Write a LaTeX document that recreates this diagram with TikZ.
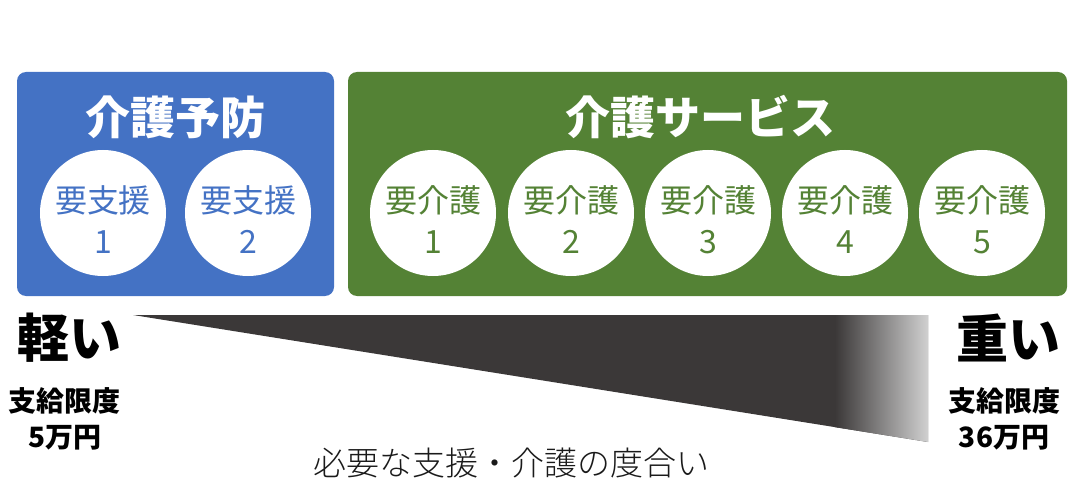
\documentclass[tikz,border=0pt]{standalone}
\usepackage{fontspec}
\setmainfont{Noto Sans CJK JP}
\newfontfamily\jpblack{Noto Sans CJK JP Black}
\newfontfamily\jplight{Noto Sans CJK JP Light}
\usepackage{tikz}

\definecolor{yoboblue}{HTML}{4472C4}
\definecolor{kaigogreen}{HTML}{548235}
\definecolor{wedgedark}{HTML}{3B3838}
\definecolor{wedgelight}{HTML}{D0D0D0}
\definecolor{scaletext}{HTML}{1A1A1A}

\begin{document}
\begin{tikzpicture}[
	x=1pt, y=-1pt,
	group/.style={rounded corners=9pt, draw=none},
	title/.style={text=white, font=\fontsize{45}{48}\selectfont\bfseries, inner sep=0pt},
	level/.style={circle, fill=white, draw=none, minimum size=126pt, inner sep=0pt},
	leveltext/.style={align=center, inner sep=0pt, font=\fontsize{32}{41}\selectfont},
	weight/.style={font=\fontsize{52}{56}\selectfont\jpblack, inner sep=0pt},
	limit/.style={font=\fontsize{28}{36}\selectfont\bfseries, align=center, inner sep=0pt}
	]
	
	\useasboundingbox (0,0) rectangle (1080,500);
	
	%-----------------------
	% Row heights
	%-----------------------
	\def\htitle{117}   % group titles
	\def\hlevel{213}   % level circles
	\def\htext{220}    % text inside circles
	\def\hweight{338}  % light / heavy
	
	%-----------------------
	% Groups
	%-----------------------
	\fill[group, yoboblue] (17,72) rectangle (334,296);
	\fill[group, kaigogreen] (348,72) rectangle (1067,296);
	
	\node[title] (yobo) at (175,\htitle) {介護予防};
	\node[title] (kaigo) at (700,\htitle) {介護サービス};
	
	%-----------------------
	% Support levels (blue)
	%-----------------------
	\node[level] (shien-1) at (103,\hlevel) {};
	\node[level] (shien-2) at (248,\hlevel) {};
	
	\node[leveltext, text=yoboblue] (shien-1-text) at (103,\htext) {要支援\\1};
	\node[leveltext, text=yoboblue] (shien-2-text) at (248,\htext) {要支援\\2};
	
	%-----------------------
	% Care levels (green)
	%-----------------------
	\node[level] (kaigo-1) at (433,\hlevel) {};
	\node[level] (kaigo-2) at (571,\hlevel) {};
	\node[level] (kaigo-3) at (708,\hlevel) {};
	\node[level] (kaigo-4) at (845,\hlevel) {};
	\node[level] (kaigo-5) at (982,\hlevel) {};
	
	\node[leveltext, text=kaigogreen] (kaigo-1-text) at (433,\htext) {要介護\\1};
	\node[leveltext, text=kaigogreen] (kaigo-2-text) at (571,\htext) {要介護\\2};
	\node[leveltext, text=kaigogreen] (kaigo-3-text) at (708,\htext) {要介護\\3};
	\node[leveltext, text=kaigogreen] (kaigo-4-text) at (845,\htext) {要介護\\4};
	\node[leveltext, text=kaigogreen] (kaigo-5-text) at (982,\htext) {要介護\\5};
	
	%-----------------------
	% Wedge (degree of need)
	%-----------------------
	\fill[wedgedark] (133,315) -- (928,315) -- (928,442) -- cycle;
	\begin{scope}
		\clip (133,315) -- (928,315) -- (928,442) -- cycle;
		\shade[left color=wedgedark, right color=wedgelight] (835,312) rectangle (928,446);
	\end{scope}
	
	%-----------------------
	% Light / heavy
	%-----------------------
	\node[weight] (light) at (69,\hweight) {軽い};
	\node[weight] (heavy) at (1008,\hweight) {重い};
	
	\node[limit] (light-limit) at (65,419) {支給限度\\5万円};
	\node[limit] (heavy-limit) at (1004,419) {支給限度\\36万円};
	
	\node[text=scaletext, font=\fontsize{33}{36}\selectfont\jplight, inner sep=0pt] (scale) at (511,463) {必要な支援・介護の度合い};
	
\end{tikzpicture}
\end{document}
